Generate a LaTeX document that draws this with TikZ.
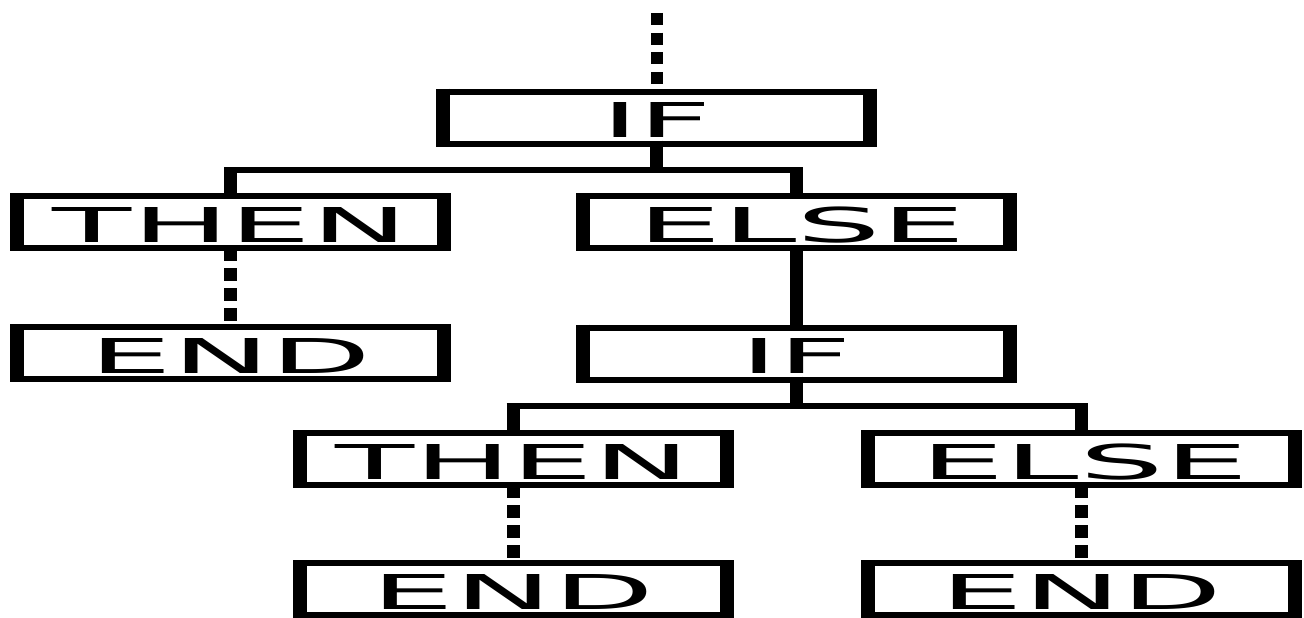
\documentclass[tikz,border=0pt]{standalone}
\usepackage{fontspec}
\setsansfont{DejaVu Sans}
\newcommand\boxfont{\sffamily\fontsize{48}{48}\selectfont}
\newcommand\stretchtxt[2]{\resizebox{#1}{\height}{#2}}
\tikzset{
  box/.style={rectangle, draw=black, line width=6pt, inner sep=0pt, outer sep=0pt,
    minimum width=427pt, minimum height=52pt, font=\boxfont,
    text height=40pt, text depth=0pt,
    append after command={
      ([yshift=3pt]\tikzlastnode.north west) edge[line width=14pt] ([yshift=-3pt]\tikzlastnode.south west)
      ([yshift=3pt]\tikzlastnode.north east) edge[line width=14pt] ([yshift=-3pt]\tikzlastnode.south east)}},
  vline/.style={draw=black, line width=13pt, shorten <=-3pt},
  hline/.style={draw=black, line width=6pt, shorten <=-6.5pt, shorten >=-6.5pt},
  dline/.style={draw=black, line width=13pt, dash pattern=on 13.3pt off 6.7pt},
  topdline/.style={draw=black, line width=12pt, dash pattern=on 12pt off 7.7pt},
}
\begin{document}
\begin{tikzpicture}[x=1pt, y=-1pt]
\useasboundingbox (0,0) rectangle (1304,618);
% boxes
\node[box] (if1)   at (656.5,117.5) {\stretchtxt{111pt}{IF}};
\node[box] (then1) at (230.5,222)   {\stretchtxt{355pt}{THEN}};
\node[box] (else1) at (796,222)     {\hspace{12pt}\stretchtxt{328pt}{ELSE}};
\node[box] (end1)  at (230.5,353)   {\stretchtxt{282pt}{END}};
\node[box] (if2)   at (796,353.5)   {\stretchtxt{111pt}{IF}};
\node[box] (then2) at (513,459)     {\stretchtxt{355pt}{THEN}};
\node[box] (else2) at (1081.5,459)  {\hspace{6pt}\stretchtxt{328pt}{ELSE}};
\node[box] (end2)  at (513,589)     {\stretchtxt{282pt}{END}};
\node[box] (end3)  at (1081.5,589)  {\stretchtxt{282pt}{END}};
% junction points
\coordinate (top) at (656.5,13);
\coordinate (j1) at (656.5,170);
\coordinate (j2) at (796,406);
% connectors
\draw[topdline] (top) -- (if1.north);
\draw[vline] (if1.south) -- (j1);
\draw[hline] (then1.north |- j1) -- (else1.north |- j1);
\draw[vline] (then1.north |- j1) -- (then1.north);
\draw[vline] (else1.north |- j1) -- (else1.north);
\draw[dline] (then1.south) -- (end1.north);
\draw[vline] (else1.south) -- (if2.north);
\draw[vline] (if2.south) -- (j2);
\draw[hline] (then2.north |- j2) -- (else2.north |- j2);
\draw[vline] (then2.north |- j2) -- (then2.north);
\draw[vline] (else2.north |- j2) -- (else2.north);
\draw[dline] (then2.south) -- (end2.north);
\draw[dline] (else2.south) -- (end3.north);
\end{tikzpicture}
\end{document}
